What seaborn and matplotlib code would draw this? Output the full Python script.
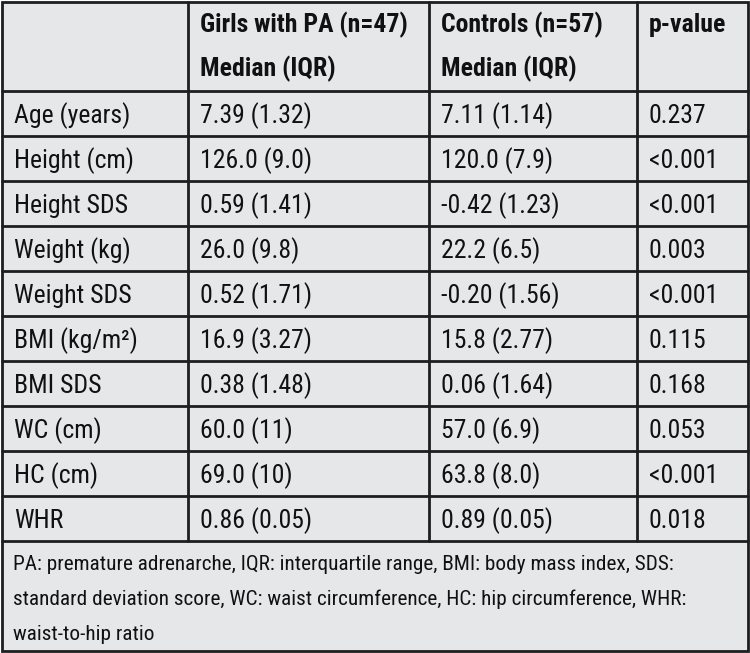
import matplotlib
matplotlib.use("Agg")
import matplotlib.pyplot as plt
import seaborn as sns

# table content
col_headers = [["", ""],
               ["Girls with PA (n=47)", "Median (IQR)"],
               ["Controls (n=57)", "Median (IQR)"],
               ["p-value", ""]]
variables = ["Age (years)", "Height (cm)", "Height SDS", "Weight (kg)", "Weight SDS",
             "BMI (kg/m²)", "BMI SDS", "WC (cm)", "HC (cm)", "WHR"]
girls_pa = ["7.39 (1.32)", "126.0 (9.0)", "0.59 (1.41)", "26.0 (9.8)", "0.52 (1.71)",
            "16.9 (3.27)", "0.38 (1.48)", "60.0 (11)", "69.0 (10)", "0.86 (0.05)"]
controls = ["7.11 (1.14)", "120.0 (7.9)", "-0.42 (1.23)", "22.2 (6.5)", "-0.20 (1.56)",
            "15.8 (2.77)", "0.06 (1.64)", "57.0 (6.9)", "63.8 (8.0)", "0.89 (0.05)"]
p_values = ["0.237", "<0.001", "<0.001", "0.003", "<0.001",
            "0.115", "0.168", "0.053", "<0.001", "0.018"]
footnote = ["PA: premature adrenarche, IQR: interquartile range, BMI: body mass index, SDS:",
            "standard deviation score, WC: waist circumference, HC: hip circumference, WHR:",
            "waist-to-hip ratio"]

sns.set_theme(style="white")
plt.rcParams['font.family'] = ['Roboto Condensed', 'DejaVu Sans']

W, H = 750, 653
bg = "#e6e7e8"
line_c = "#1e1e1e"
txt_c = "#111111"
col_x = [2, 188, 429, 637, 748]
header_bottom = 91
row_h = 45
foot_top = header_bottom + row_h * len(variables)

fig = plt.figure(figsize=(W / 100, H / 100), dpi=100)
fig.patch.set_facecolor("white")
ax = fig.add_axes([0, 0, 1, 1])
ax.set_xlim(0, W)
ax.set_ylim(H, 0)
ax.axis("off")

ax.add_patch(plt.Rectangle((col_x[0], 2), col_x[-1] - col_x[0], H - 4,
                           facecolor=bg, edgecolor=line_c, lw=2))

# horizontal rules
for i in range(len(variables) + 1):
    y = header_bottom + i * row_h
    ax.plot([col_x[0], col_x[-1]], [y, y], color=line_c, lw=2)
# vertical rules (not through footnote)
for x in col_x[1:-1]:
    ax.plot([x, x], [2, foot_top], color=line_c, lw=2)

pad = 12
fs = 18.5
for j, (l1, l2) in enumerate(col_headers):
    x = col_x[j] + pad
    ax.text(x, 25, l1, fontsize=fs, fontweight="bold", va="center", ha="left", color=txt_c)
    ax.text(x, 69, l2, fontsize=fs, fontweight="bold", va="center", ha="left", color=txt_c)

columns = [variables, girls_pa, controls, p_values]
for j, col in enumerate(columns):
    for i, val in enumerate(col):
        y = header_bottom + i * row_h + row_h / 2 + 2.5
        ax.text(col_x[j] + pad, y, val, fontsize=fs, va="center", ha="left", color=txt_c)

for k, line in enumerate(footnote):
    ax.text(col_x[0] + 11, foot_top + 23 + k * 35, line, fontsize=15.3,
            va="center", ha="left", color=txt_c)

fig.savefig("out.png", dpi=100, facecolor="white")
